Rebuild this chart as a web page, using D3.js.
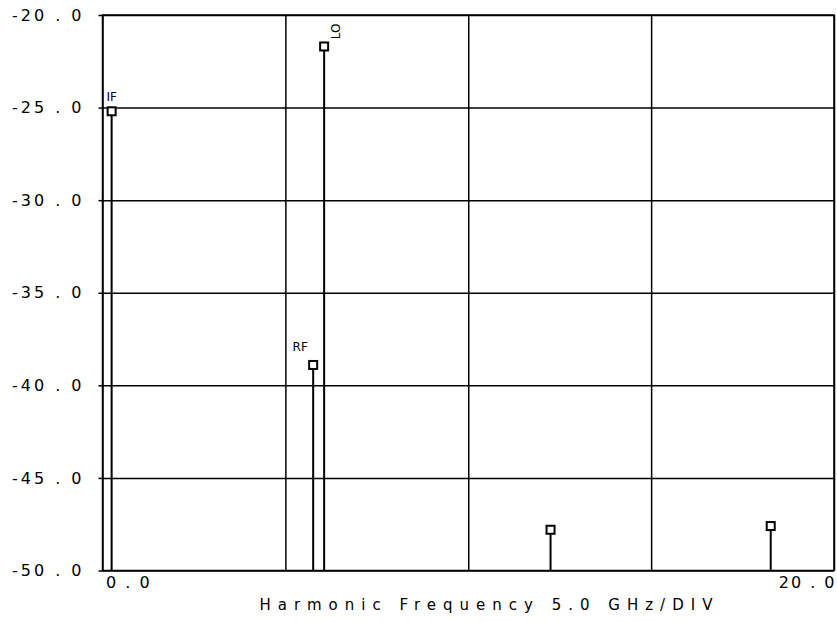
<!DOCTYPE html>
<html>
<head>
<meta charset="utf-8">
<script src="https://cdn.jsdelivr.net/npm/d3@7"></script>
<style>
  html, body { margin: 0; padding: 0; background: #fff; }
  svg { display: block; }
  .lbl { font-family: "DejaVu Sans", sans-serif; fill: #000; }
</style>
</head>
<body>
<svg id="chart" width="837" height="622"></svg>
<script>
// Spectral lines: harmonic frequency (GHz) and level (dB)
const freqs  = [0.25, 5.76, 6.06, 12.25, 18.27];
const levels = [-25.2, -38.9, -21.7, -47.8, -47.6];
const tags   = ["IF", "RF", "LO", "", ""];

const yTicks = [-20, -25, -30, -35, -40, -45, -50];
const xGrid  = [0, 5, 10, 15, 20];
const xTickText = ["0.0", "", "", "", "20.0"];
const xTitle = "Harmonic Frequency 5.0 GHz/DIV";

const svg = d3.select("#chart");
const plotL = 102.5, plotR = 834, plotT = 15, plotB = 570.5;
const W = plotR - plotL, H = plotB - plotT;

const x = d3.scaleLinear().domain([0, 20]).range([plotL, plotR]);
const y = d3.scaleLinear().domain([-20, -50]).range([plotT, plotB]);

// horizontal grid + y labels
const yAxis = d3.axisLeft(y)
  .tickValues(yTicks)
  .tickSize(-W)
  .tickPadding(18)
  .tickFormat(v => v.toFixed(1).replace(".", " . "));
const gy = svg.append("g").attr("transform", `translate(${plotL},0)`).call(yAxis);
gy.select(".domain").remove();
gy.selectAll(".tick line").attr("stroke", "#000").attr("stroke-width", 1.5);
gy.selectAll(".tick text")
  .attr("class", "lbl")
  .style("font-size", "16px")
  .style("letter-spacing", "3px")
  .style("white-space", "pre")
  .attr("fill", "#000");

// small tick stubs on the left edge
gy.selectAll(".tick").append("line")
  .attr("x1", -4).attr("x2", 0)
  .attr("stroke", "#000").attr("stroke-width", 1.5);

// vertical grid + x labels
const xAxis = d3.axisBottom(x)
  .tickValues(xGrid)
  .tickSize(-H)
  .tickPadding(6)
  .tickFormat((d, i) => xTickText[i]);
const gx = svg.append("g").attr("transform", `translate(0,${plotB})`).call(xAxis);
gx.select(".domain").remove();
gx.selectAll(".tick line").attr("stroke", "#000").attr("stroke-width", 1.5);
gx.selectAll(".tick text")
  .attr("class", "lbl")
  .style("font-size", "16px")
  .style("letter-spacing", "2px")
  .style("white-space", "pre")
  .attr("fill", "#000")
  .text((d, i) => xTickText[i].replace(".", " . "))
  .attr("text-anchor", (d, i) => i === 0 ? "start" : "end")
  .attr("dx", (d, i) => i === 0 ? 3 : 2);

// frame
svg.append("rect")
  .attr("x", plotL).attr("y", plotT).attr("width", W).attr("height", H)
  .attr("fill", "none").attr("stroke", "#000").attr("stroke-width", 1.5);

// stems
svg.append("g").selectAll("line").data(freqs).join("line")
  .attr("x1", d => x(d)).attr("x2", d => x(d))
  .attr("y1", (d, i) => y(levels[i])).attr("y2", y(-50))
  .attr("stroke", "#000").attr("stroke-width", 2);

// square markers
const s = 8;
svg.append("g").selectAll("rect").data(freqs).join("rect")
  .attr("x", d => x(d) - s / 2)
  .attr("y", (d, i) => y(levels[i]) - s / 2)
  .attr("width", s).attr("height", s)
  .attr("fill", "#fff").attr("stroke", "#000").attr("stroke-width", 2);

// line tags
const tagPos = {
  IF: { dx: 0, dy: -14, rot: 0 },
  RF: { dx: -13, dy: -17, rot: 0 },
  LO: { dx: 12, dy: -15, rot: -90 }
};
freqs.forEach((f, i) => {
  const t = tags[i];
  if (!t) return;
  const p = tagPos[t];
  const cx = x(f) + p.dx, cy = y(levels[i]) + p.dy;
  svg.append("text")
    .attr("class", "lbl")
    .attr("transform", `translate(${cx},${cy}) rotate(${p.rot})`)
    .attr("text-anchor", "middle")
    .attr("dominant-baseline", "middle")
    .style("font-size", "12px")
    .text(t);
});

// x-axis title
svg.append("text")
  .attr("class", "lbl")
  .attr("x", (258 + 715) / 2 + 3)
  .attr("y", 610)
  .attr("text-anchor", "middle")
  .style("font-size", "15px")
  .style("letter-spacing", "7px")
  .text(xTitle);
</script>
</body>
</html>
